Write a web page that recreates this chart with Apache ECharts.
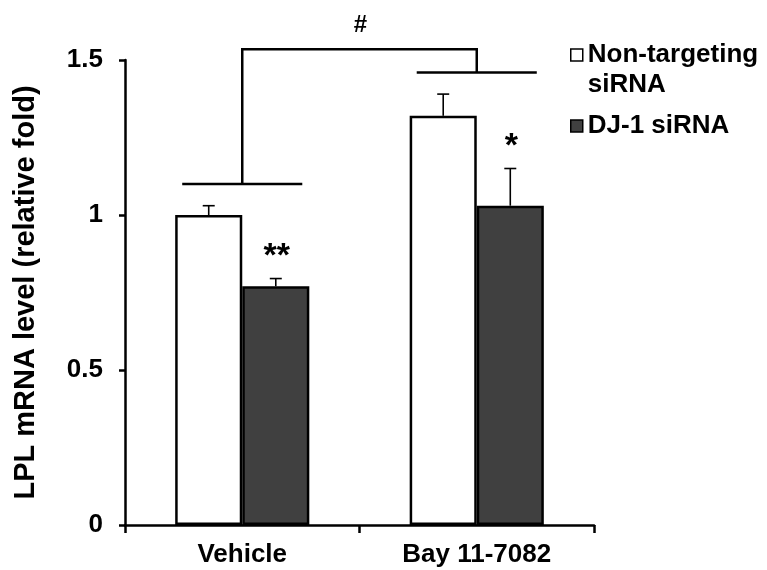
<!DOCTYPE html>
<html>
<head>
<meta charset="utf-8">
<script src="https://cdn.jsdelivr.net/npm/echarts@6/dist/echarts.min.js"></script>
<style>
  html, body { margin: 0; padding: 0; background: #fff; }
  #chart { width: 767px; height: 570px; }
</style>
</head>
<body>
<div id="chart"></div>
<script>
// LPL mRNA level by treatment, two siRNA groups
const categories = ['Vehicle', 'Bay 11-7082'];
const seriesNames = ['Non-targeting siRNA', 'DJ-1 siRNA'];
const nonTargeting = [1.0, 1.32];
const nonTargetingErr = [0.03, 0.07];
const dj1 = [0.77, 1.03];
const dj1Err = [0.025, 0.12];
const dj1Stars = ['**', '*'];
const groupBracketLevels = [1.10, 1.46];
const topBracketLevel = 1.535;
const hashLevel = 1.613;
const hashLabel = '#';
const yTicks = { min: 0, max: 1.5, interval: 0.5 };

const FONT = "'Liberation Sans', Arial, sans-serif";
const BAR_FRAC = 0.286;      // bar width as a share of a category band
const BRACKET_FRAC = 0.256;  // half-width of group bracket as a share of a band

const chart = echarts.init(document.getElementById('chart'));

// error bars: [category index, value, error, side]
const errData = [];
nonTargeting.forEach((v, i) => errData.push([i, v, nonTargetingErr[i], -1]));
dj1.forEach((v, i) => errData.push([i, v, dj1Err[i], 1]));

const starData = dj1.map((v, i) => [i, v + dj1Err[i]]);
const bracketData = groupBracketLevels.map((v, i) => [i, v]);

function renderErr(params, api) {
  const idx = api.value(0), val = api.value(1), err = api.value(2), side = api.value(3);
  const band = api.size([1, 0])[0];
  const base = api.coord([idx, val]);
  const top = api.coord([idx, val + err]);
  const x = base[0] + side * band * BAR_FRAC / 2;
  const style = { stroke: '#000', lineWidth: 1.6 };
  return {
    type: 'group',
    children: [
      { type: 'line', shape: { x1: x, y1: base[1], x2: x, y2: top[1] }, style },
      { type: 'line', shape: { x1: x - 6, y1: top[1], x2: x + 6, y2: top[1] }, style }
    ]
  };
}

function renderStar(params, api) {
  const idx = api.value(0), val = api.value(1);
  const band = api.size([1, 0])[0];
  const p = api.coord([idx, val]);
  const x = p[0] + band * BAR_FRAC / 2 + 1;
  return {
    type: 'text',
    style: {
      text: dj1Stars[params.dataIndex],
      x: x, y: p[1] - 5,
      align: 'center', verticalAlign: 'bottom',
      font: 'bold 34px ' + FONT, fill: '#000'
    }
  };
}

function renderBracket(params, api) {
  const idx = api.value(0), lvl = api.value(1);
  const band = api.size([1, 0])[0];
  const p = api.coord([idx, lvl]);
  const t = api.coord([idx, topBracketLevel]);
  const half = band * BRACKET_FRAC;
  const style = { stroke: '#000', lineWidth: 2.5 };
  const children = [
    { type: 'line', shape: { x1: p[0] - half, y1: p[1], x2: p[0] + half, y2: p[1] }, style },
    { type: 'line', shape: { x1: p[0], y1: p[1], x2: p[0], y2: t[1] }, style }
  ];
  if (params.dataIndex === 0) {
    const other = api.coord([1, topBracketLevel]);
    const h = api.coord([0, hashLevel]);
    children.push({ type: 'line', shape: { x1: t[0] - 1.25, y1: t[1], x2: other[0] + 1.25, y2: t[1] }, style });
    children.push({
      type: 'text',
      style: {
        text: hashLabel, x: (t[0] + other[0]) / 2 + 1, y: h[1],
        align: 'center', verticalAlign: 'middle',
        font: 'bold 24px ' + FONT, fill: '#000'
      }
    });
  }
  return { type: 'group', children };
}

const labelFont = { fontFamily: FONT, fontWeight: 'bold', fontSize: 26, color: '#000' };

chart.setOption({
  animation: false,
  backgroundColor: '#fff',
  grid: { left: 125, right: 173, top: 60, bottom: 45, containLabel: false, outerBoundsMode: 'none' },
  legend: [
    {
      data: [seriesNames[0]],
      left: 570, top: 10, padding: 0,
      itemWidth: 12, itemHeight: 12,
      icon: 'rect',
      itemStyle: { borderColor: '#000', borderWidth: 1.5 },
      // leading blank line keeps the first text line level with the swatch
      formatter: () => '\nNon-targeting\nsiRNA',
      textStyle: Object.assign({}, labelFont, { lineHeight: 30 })
    },
    {
      data: [seriesNames[1]],
      left: 570, top: 113, padding: 0,
      itemWidth: 12, itemHeight: 12,
      icon: 'rect',
      itemStyle: { borderColor: '#000', borderWidth: 1.5 },
      textStyle: Object.assign({}, labelFont, { lineHeight: 24 })
    }
  ],
  xAxis: {
    type: 'category',
    data: categories,
    boundaryGap: true,
    axisLine: { lineStyle: { color: '#000', width: 2.5 } },
    axisTick: { show: true, inside: false, length: 8, lineStyle: { color: '#000', width: 2.5 } },
    axisLabel: Object.assign({}, labelFont, { margin: 17 })
  },
  yAxis: {
    type: 'value',
    min: yTicks.min, max: yTicks.max, interval: yTicks.interval,
    name: 'LPL mRNA level (relative fold)',
    nameLocation: 'middle',
    nameGap: 85,
    nameRotate: 90,
    nameTextStyle: Object.assign({}, labelFont, { fontSize: 29 }),
    splitLine: { show: false },
    axisLine: { show: true, lineStyle: { color: '#000', width: 2.5 } },
    axisTick: { show: true, inside: false, length: 6, lineStyle: { color: '#000', width: 2.5 } },
    axisLabel: Object.assign({}, labelFont, { margin: 22 })
  },
  series: [
    {
      name: seriesNames[0], type: 'bar', data: nonTargeting,
      barWidth: (BAR_FRAC * 100) + '%', barGap: '0%',
      itemStyle: { color: '#fff', borderColor: '#000', borderWidth: 2.5 },
      z: 2
    },
    {
      name: seriesNames[1], type: 'bar', data: dj1,
      barWidth: (BAR_FRAC * 100) + '%', barGap: '0%',
      itemStyle: { color: '#404040', borderColor: '#000', borderWidth: 2.5 },
      z: 2
    },
    {
      type: 'custom', data: errData, renderItem: renderErr, clip: false, z: 3,
      silent: true, encode: { x: 0, y: 1 }
    },
    {
      type: 'custom', data: starData, renderItem: renderStar, clip: false, z: 3,
      silent: true, encode: { x: 0, y: 1 }
    },
    {
      type: 'custom', data: bracketData, renderItem: renderBracket, clip: false, z: 3,
      silent: true, encode: { x: 0, y: 1 }
    }
  ]
});
</script>
</body>
</html>
